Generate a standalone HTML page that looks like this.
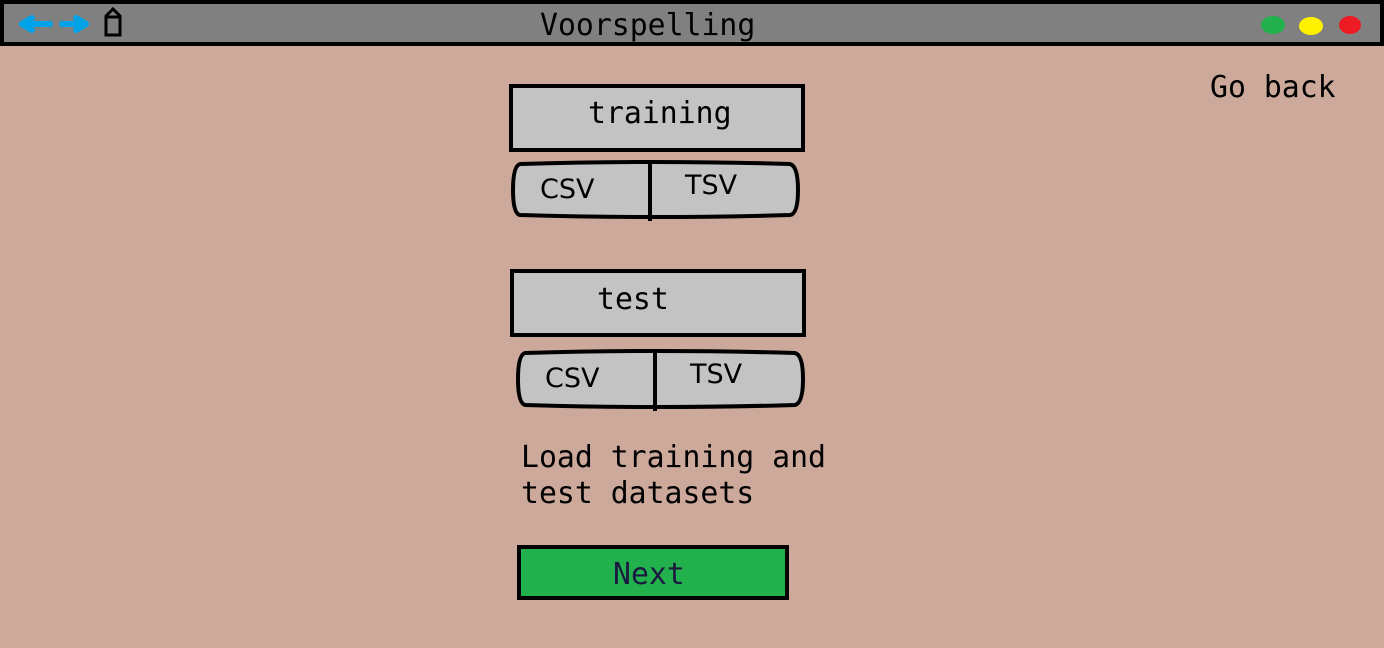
<!DOCTYPE html>
<html><head><style>
html,body{margin:0;padding:0;width:1384px;height:648px;overflow:hidden;background:#cca99a}
svg{display:block}
.m{font-family:"DejaVu Sans Mono","Liberation Mono",monospace;font-size:29.8px;fill:#000}
.s{font-family:"DejaVu Sans","Liberation Sans",sans-serif;font-size:27px;fill:#000}
</style></head><body>
<svg width="1384" height="648" viewBox="0 0 1384 648">
<rect x="0" y="0" width="1384" height="648" fill="#cca99a"/>
<rect x="2" y="2" width="1380" height="42" fill="#808080" stroke="#000" stroke-width="4"/>
<g stroke="#00a2e8" stroke-width="6" fill="none" stroke-linecap="round">
<path d="M22 24 H50 M22 24 L32 18 M22 24 L32 30"/>
<path d="M62 24 H86 M86 24 L76 18 M86 24 L76 30"/>
</g>
<path d="M106 16 L113 9 L120 16 V35 H106 Z M106 17 H120" fill="none" stroke="#000" stroke-width="3"/>
<text class="m" x="540" y="35">Voorspelling</text>
<ellipse cx="1273" cy="25" rx="12" ry="9" fill="#22b14c"/>
<ellipse cx="1311" cy="26" rx="12" ry="9" fill="#fff200"/>
<ellipse cx="1350" cy="25" rx="11" ry="9" fill="#ed1c24"/>
<text class="m" x="1210" y="97">Go back</text>

<rect x="511" y="86" width="292" height="64" fill="#c3c3c3" stroke="#000" stroke-width="4"/>
<text class="m" x="588" y="123">training</text>
<path d="M520 164 Q650 160 790 164 Q798 166 798 190 Q798 214 790 215 Q650 219 520 215 Q513 214 513 190 Q513 166 520 164 Z" fill="#c3c3c3" stroke="#000" stroke-width="4"/>
<line x1="650" y1="163" x2="650" y2="221" stroke="#000" stroke-width="4"/>
<text class="s" x="540" y="198">CSV</text>
<text class="s" x="685" y="194">TSV</text>

<rect x="512" y="271" width="292" height="64" fill="#c3c3c3" stroke="#000" stroke-width="4"/>
<text class="m" x="597" y="309">test</text>
<path d="M525 353 Q655 349 795 353 Q803 355 803 379 Q803 403 795 405 Q655 409 525 405 Q518 403 518 379 Q518 355 525 353 Z" fill="#c3c3c3" stroke="#000" stroke-width="4"/>
<line x1="655" y1="352" x2="655" y2="411" stroke="#000" stroke-width="4"/>
<text class="s" x="545" y="387">CSV</text>
<text class="s" x="690" y="383">TSV</text>

<text class="m" x="521" y="467">Load training and</text>
<text class="m" x="521" y="503">test datasets</text>

<rect x="519" y="547" width="268" height="51" fill="#22b14c" stroke="#000" stroke-width="4"/>
<text class="m" x="613" y="584" style="fill:#1a1a40">Next</text>
</svg>
</body></html>
